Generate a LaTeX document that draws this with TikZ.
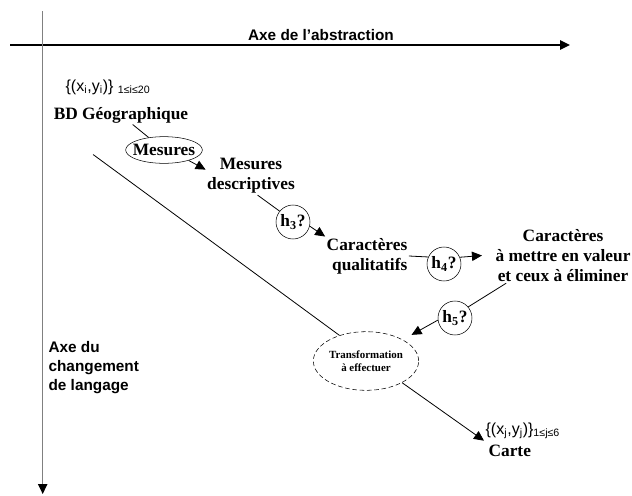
\documentclass[tikz,border=0pt]{standalone}
\usepackage{fontspec}
\setmainfont{Liberation Serif}
\setsansfont{Liberation Sans}
\usetikzlibrary{arrows.meta, positioning, shapes.geometric}
\usepackage{xcolor}

\begin{document}
\begin{tikzpicture}[
        x=0.75pt, y=-0.75pt,
        lbl/.style={font=\bfseries\fontsize{13}{15}\selectfont, align=center, inner sep=1pt},
        hyp/.style={circle, draw, thin, minimum size=25.5pt, inner sep=0pt, font=\bfseries\fontsize{13}{15}\selectfont},
        axlbl/.style={font=\sffamily\bfseries\fontsize{11.5}{14}\selectfont, inner sep=1pt},
        setlbl/.style={font=\sffamily\fontsize{12}{14}\selectfont, inner sep=1pt},
        arr/.style={-{Triangle[length=7.5pt, width=7pt, color=black]}},
        conn/.style={draw, line width=0.6pt}
      ]
        \useasboundingbox (0,0) rectangle (632,496);
        % axes
        \coordinate (hx0) at (10,45);
        \coordinate (hx1) at (570,45);
        \coordinate (vy0) at (42.7,11);
        \coordinate (vy1) at (42.7,494);
        \draw[line width=1.1pt, arr] (hx0) -- (hx1);
        \draw[line width=1pt, gray, arr] (vy0) -- (vy1);
        \node[axlbl] (abs) at (321,35) {Axe de l’abstraction};
        \node[axlbl, align=left, anchor=west] (lang) at (47,367.5) {Axe du\\changement\\de langage};

        % nodes
        \node[setlbl, anchor=west] (ci) at (64,87) {\{(x\textsubscript{i},y\textsubscript{i})\} \textsubscript{1≤i≤20}};
        \node[lbl] (bd) at (121,115) {BD Géographique};
        \node[lbl, ellipse, draw, thin, inner xsep=-3pt, inner ysep=0pt, minimum height=20pt] (mes) at (164,150) {Mesures};
        \node[lbl] (md) at (251,176) {Mesures\\descriptives};
        \node[hyp] (h3) at (293,222) {h\textsubscript{3}?};
        \node[lbl, align=right] (cq) at (367,256) {Caractères\\qualitatifs};
        \node[hyp] (h4) at (444,264) {h\textsubscript{4}?};
        \node[lbl, inner xsep=10pt] (cv) at (563,255.5) {Caractères\\à mettre en valeur\\et ceux à éliminer};
        \node[hyp] (h5) at (455,318) {h\textsubscript{5}?};
        \node[ellipse, draw, thin, dashed, dash pattern=on 3.5pt off 2pt, minimum width=79pt, minimum height=44pt, inner sep=0pt,
              align=center, font=\bfseries\fontsize{8.2}{10}\selectfont] (tr) at (366,361) {Transformation\\à effectuer};
        \node[setlbl, anchor=west] (cj) at (484,431) {\{(x\textsubscript{j},y\textsubscript{j})\}\textsubscript{1≤j≤6}};
        \node[lbl, anchor=west] (carte) at (487,451) {Carte};

        % connectors
        \draw[conn] (bd) -- (mes);
        \draw[conn, arr] (mes.-23) -- (md.172);
        \draw[conn] (md.-71) -- (h3.141);
        \draw[conn, arr] (h3.-14) -- (cq.north west);
        \draw[conn] (cq.east) -- (h4.156);
        \draw[conn, arr] (h4.23) -- (cv.west);
        \draw[conn] (cv.206) -- (h5.40);
        \draw[conn, arr, shorten >=7.5pt] (h5.187) -- (tr.30);
        \draw[conn, shorten <=38pt] (bd.south west) -- (tr.136);
        \draw[conn, arr] (tr.-31) -- (cj.south west);
    \end{tikzpicture}
\end{document}
